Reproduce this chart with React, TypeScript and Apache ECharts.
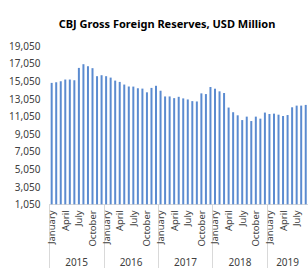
import React, { useEffect, useRef } from "react";
import * as echarts from "echarts";

const monthNames = ["January", "February", "March", "April", "May", "June", "July", "August", "September", "October", "November", "December"];
const years = ["2015", "2016", "2017", "2018", "2019"];
const monthCount = 57; // Jan 2015 - Sep 2019
const categories: string[] = Array.from({ length: monthCount }, (_, i) => monthNames[i % 12] + " " + years[Math.floor(i / 12)]);

const reserves2015 = [14830, 14900, 15015, 15210, 15210, 15130, 16530, 16950, 16720, 16500, 15590, 15700];
const reserves2016 = [15590, 15430, 15090, 14940, 14640, 14410, 14410, 14220, 14180, 13760, 14260, 14500];
const reserves2017 = [13940, 13290, 13290, 13100, 13250, 13070, 12950, 12760, 12720, 13640, 13560, 14360];
const reserves2018 = [14170, 13870, 13680, 12030, 11500, 11150, 10610, 11000, 10500, 11000, 10770, 11460];
const reserves2019 = [11300, 11340, 11220, 11070, 11180, 12060, 12250, 12250, 12330];
const reserves = [...reserves2015, ...reserves2016, ...reserves2017, ...reserves2018, ...reserves2019];

const yTicks = [1050, 3050, 5050, 7050, 9050, 11050, 13050, 15050, 17050, 19050];
const yearStarts = [0, 12, 24, 36, 48];
const yearCenters = [6, 18, 30, 42, 52.5];

export default function App() {
  const ref = useRef<HTMLDivElement>(null);
  useEffect(() => {
    document.body.style.margin = "0";
    const chart = echarts.init(ref.current!, null, { renderer: "svg" });
    const font = "Noto Sans";
    chart.setOption({
      animation: false,
      backgroundColor: "#ffffff",
      title: {
        text: "CBJ Gross Foreign Reserves, USD Million",
        left: 162,
        textAlign: "center",
        top: 13,
        textStyle: { fontFamily: font, fontSize: 11, fontWeight: "bold", color: "#000000" },
      },
      grid: { left: 49.4, right: -1.4, top: 45.7, bottom: 63.7, containLabel: false },
      xAxis: [
        {
          type: "category",
          data: categories,
          boundaryGap: true,
          axisLine: { show: true, lineStyle: { color: "#d9d9d9", width: 1 } },
          axisTick: { show: false },
          axisLabel: {
            interval: (i: number) => i % 3 === 0,
            rotate: 90,
            margin: 6,
            fontFamily: font,
            fontSize: 9.5,
            color: "#404040",
            formatter: (v: string) => v.split(" ")[0],
          },
          splitLine: { show: false },
        },
        {
          type: "value",
          position: "bottom",
          min: 0,
          max: monthCount,
          axisLine: { show: false },
          splitLine: { show: false },
          axisTick: {
            show: true,
            customValues: yearStarts,
            length: 64,
            lineStyle: { color: "#d9d9d9", width: 1 },
          },
          axisLabel: {
            customValues: yearCenters,
            margin: 53,
            fontFamily: font,
            fontSize: 10,
            color: "#404040",
            formatter: (v: number) => years[Math.floor(v / 12)],
          },
        },
      ],
      yAxis: {
        type: "value",
        min: 1050,
        max: 19050,
        axisLine: { show: false },
        axisTick: { show: false },
        splitLine: { show: false },
        axisLabel: {
          customValues: yTicks,
          margin: 9,
          fontFamily: font,
          fontSize: 10,
          color: "#404040",
          formatter: (v: number) => v.toLocaleString("en-US"),
        },
      },
      series: [
        {
          type: "bar",
          xAxisIndex: 0,
          data: reserves,
          barWidth: 2,
          itemStyle: { color: "#5b8bd0" },
        },
      ],
    });
    return () => chart.dispose();
  }, []);
  return <div ref={ref} style={{ width: 308, height: 268 }} />;
}
